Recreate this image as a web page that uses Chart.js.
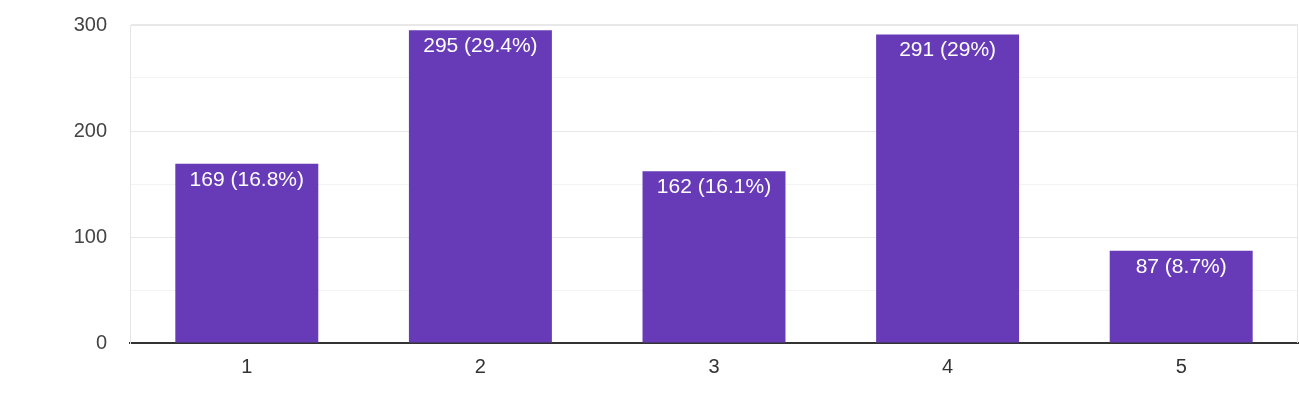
<!DOCTYPE html>
<html>
<head>
<meta charset="utf-8">
<script src="https://cdn.jsdelivr.net/npm/chart.js@4/dist/chart.umd.min.js"></script>
<style>
  html, body { margin: 0; padding: 0; background: #fff; }
  #wrap { width: 1299px; height: 413px; }
</style>
</head>
<body>
<div id="wrap"><canvas id="myChart" width="1299" height="413"></canvas></div>
<script>
var categories = ['1', '2', '3', '4', '5'];
var counts = [169, 295, 162, 291, 87];
var percents = ['16.8%', '29.4%', '16.1%', '29%', '8.7%'];
var yTicks = [0, 100, 200, 300];

var FONT = "Arial, 'Liberation Sans', sans-serif";

// value labels inside the top of each bar + right frame line
var barLabels = {
    id: 'barLabels',
    afterDatasetsDraw: function (chart) {
        var c = chart.ctx;
        var meta = chart.getDatasetMeta(0);
        c.save();
        c.fillStyle = '#ffffff';
        c.font = '21px ' + FONT;
        c.textAlign = 'center';
        c.textBaseline = 'middle';
        meta.data.forEach(function (bar, i) {
            c.fillText(counts[i] + ' (' + percents[i] + ')', bar.x, bar.y + 16);
        });
        c.restore();
    },
    beforeDatasetsDraw: function (chart) {
        var a = chart.chartArea, c = chart.ctx;
        c.save();
        c.strokeStyle = '#e6e6e6';
        c.lineWidth = 1;
        c.beginPath();
        c.moveTo(a.right - 0.5, a.top);
        c.lineTo(a.right - 0.5, a.bottom);
        c.stroke();
        c.restore();
    }
};

var ctx = document.getElementById('myChart').getContext('2d');
var myChart = new Chart(ctx, {
    type: 'bar',
    data: {
        labels: categories,
        datasets: [{
            data: counts,
            backgroundColor: '#673ab7',
            borderWidth: 0,
            barPercentage: 0.612,
            categoryPercentage: 1
        }]
    },
    plugins: [barLabels],
    options: {
        responsive: false,
        animation: false,
        layout: { padding: { top: 25, right: 1, left: 0, bottom: 0 } },
        plugins: { legend: { display: false }, tooltip: { enabled: false } },
        scales: {
            x: {
                grid: { display: false, drawTicks: false },
                border: { display: true, color: '#333333', width: 2 },
                ticks: { color: '#333333', padding: 12, font: { family: FONT, size: 20 } },
                afterFit: function (s) { s.height = 70; s.paddingLeft = 0; s.paddingRight = 0; }
            },
            y: {
                min: 0,
                max: 300,
                ticks: {
                    stepSize: 50,
                    padding: 23,
                    color: '#444444',
                    font: { family: FONT, size: 20 },
                    callback: function (v) { return yTicks.indexOf(v) >= 0 ? String(v) : ''; }
                },
                grid: {
                    drawTicks: false,
                    color: function (c) {
                        var v = c.tick.value;
                        if (v === 0) return 'rgba(0,0,0,0)';
                        return yTicks.indexOf(v) >= 0 ? '#e8e8e8' : '#f3f3f3';
                    },
                    lineWidth: function (c) { return c.tick.value === 300 ? 2 : 1; }
                },
                border: { display: true, color: '#e6e6e6', width: 1 },
                afterFit: function (s) { s.width = 130; s.paddingTop = 0; s.paddingBottom = 0; }
            }
        }
    }
});
</script>
</body>
</html>
